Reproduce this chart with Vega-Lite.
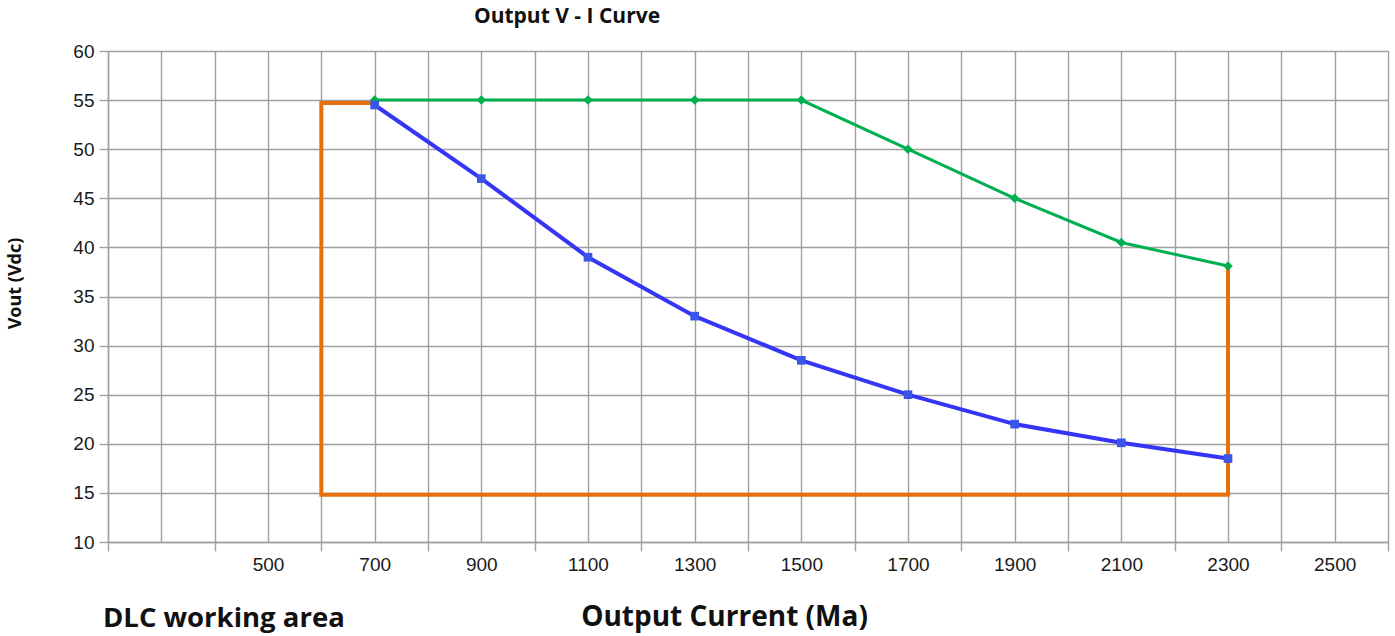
{
  "$schema": "https://vega.github.io/schema/vega-lite/v6.json",
  "width": 1280,
  "height": 491,
  "autosize": {"type": "none"},
  "padding": {"left": 108, "top": 51, "right": 7, "bottom": 94},
  "background": "white",
  "config": {"view": {"stroke": null}},
  "title": {
    "text": "Output V - I Curve",
    "font": "Open Sans",
    "fontWeight": "bold",
    "fontSize": 21,
    "color": "#111",
    "anchor": "middle",
    "frame": "group",
    "dx": -181,
    "dy": 7,
    "baseline": "alphabetic",
    "offset": 5
  },
  "datasets": {
    "curves": [
      {"series": "max", "current": 700, "vout": 55},
      {"series": "max", "current": 900, "vout": 55},
      {"series": "max", "current": 1100, "vout": 55},
      {"series": "max", "current": 1300, "vout": 55},
      {"series": "max", "current": 1500, "vout": 55},
      {"series": "max", "current": 1700, "vout": 50},
      {"series": "max", "current": 1900, "vout": 45},
      {"series": "max", "current": 2100, "vout": 40.5},
      {"series": "max", "current": 2300, "vout": 38.1},
      {"series": "min", "current": 700, "vout": 54.5},
      {"series": "min", "current": 900, "vout": 47},
      {"series": "min", "current": 1100, "vout": 39},
      {"series": "min", "current": 1300, "vout": 33},
      {"series": "min", "current": 1500, "vout": 28.5},
      {"series": "min", "current": 1700, "vout": 25},
      {"series": "min", "current": 1900, "vout": 22},
      {"series": "min", "current": 2100, "vout": 20.1},
      {"series": "min", "current": 2300, "vout": 18.5}
    ],
    "area": [
      {"step": 1, "current": 700, "vout": 54.7},
      {"step": 2, "current": 600, "vout": 54.7},
      {"step": 3, "current": 600, "vout": 14.8},
      {"step": 4, "current": 2300, "vout": 14.8},
      {"step": 5, "current": 2300, "vout": 38}
    ]
  },
  "layer": [
    {
      "data": {"name": "area"},
      "mark": {"type": "line", "color": "#e8700a", "strokeWidth": 4, "strokeJoin": "miter", "strokeCap": "square"},
      "encoding": {
        "x": {
          "field": "current",
          "type": "quantitative",
          "scale": {"domain": [200, 2600], "nice": false, "zero": false},
          "axis": {
            "values": [200, 300, 400, 500, 600, 700, 800, 900, 1000, 1100, 1200, 1300, 1400, 1500, 1600, 1700, 1800, 1900, 2000, 2100, 2200, 2300, 2400, 2500, 2600],
            "labelExpr": "datum.value >= 500 && datum.value % 200 == 100 ? datum.label : ''",
            "format": "d",
            "grid": true,
            "gridColor": "#a0a0a0",
            "gridWidth": 1.4,
            "domainColor": "#a0a0a0",
            "domainWidth": 1.4,
            "tickColor": {"condition": {"test": "datum.value % 200 == 0", "value": "#a0a0a0"}, "value": "transparent"},
            "tickWidth": 1.4,
            "tickSize": 9,
            "labelFont": "Liberation Sans",
            "labelFontSize": 19,
            "labelColor": "#1a1a1a",
            "labelPadding": 4,
            "labelFlush": false,
            "labelOverlap": false,
            "title": "Output Current (Ma)",
            "titleFont": "Open Sans",
            "titleFontWeight": "bold",
            "titleFontSize": 28,
            "titleColor": "#111",
            "titleX": 616,
            "titleY": 83,
            "titleBaseline": "alphabetic",
            "titleAnchor": null,
            "titleAlign": "center"
          }
        },
        "y": {
          "field": "vout",
          "type": "quantitative",
          "scale": {"domain": [10, 60], "nice": false, "zero": false},
          "axis": {
            "values": [10, 15, 20, 25, 30, 35, 40, 45, 50, 55, 60],
            "grid": true,
            "gridColor": "#a0a0a0",
            "gridWidth": 1.4,
            "domainColor": "#a0a0a0",
            "domainWidth": 1.4,
            "tickColor": "#a0a0a0",
            "tickWidth": 1.4,
            "tickSize": 9,
            "labelFont": "Liberation Sans",
            "labelFontSize": 19,
            "labelColor": "#1a1a1a",
            "labelPadding": 5,
            "labelFlush": false,
            "title": "Vout (Vdc)",
            "titleFont": "Open Sans",
            "titleFontWeight": "bold",
            "titleFontSize": 18,
            "titleColor": "#111",
            "titleAngle": 270,
            "titleX": -88,
            "titleY": 232,
            "titleBaseline": "alphabetic",
            "titleAlign": "center",
            "titleAnchor": null
          }
        },
        "order": {"field": "step", "type": "quantitative"}
      }
    },
    {
      "data": {"name": "curves"},
      "transform": [{"filter": "datum.series == 'max'"}],
      "mark": {"type": "line", "color": "#00b050", "strokeWidth": 3, "point": {"shape": "diamond", "size": 90, "filled": true, "color": "#00b050"}},
      "encoding": {
        "x": {"field": "current", "type": "quantitative"},
        "y": {"field": "vout", "type": "quantitative"}
      }
    },
    {
      "data": {"name": "curves"},
      "transform": [{"filter": "datum.series == 'min'"}],
      "mark": {"type": "line", "color": "#3535f5", "strokeWidth": 4, "point": {"shape": "square", "size": 75, "filled": true, "color": "#3a55e8"}},
      "encoding": {
        "x": {"field": "current", "type": "quantitative"},
        "y": {"field": "vout", "type": "quantitative"}
      }
    },
    {
      "data": {"values": [{"text": "DLC working area"}]},
      "mark": {"type": "text", "font": "Open Sans", "fontWeight": "bold", "fontSize": 27.5, "color": "#111", "align": "left", "baseline": "alphabetic", "clip": false},
      "encoding": {
        "x": {"datum": 190.6, "type": "quantitative"},
        "y": {"datum": 1.34, "type": "quantitative"},
        "text": {"field": "text"}
      }
    }
  ]
}
